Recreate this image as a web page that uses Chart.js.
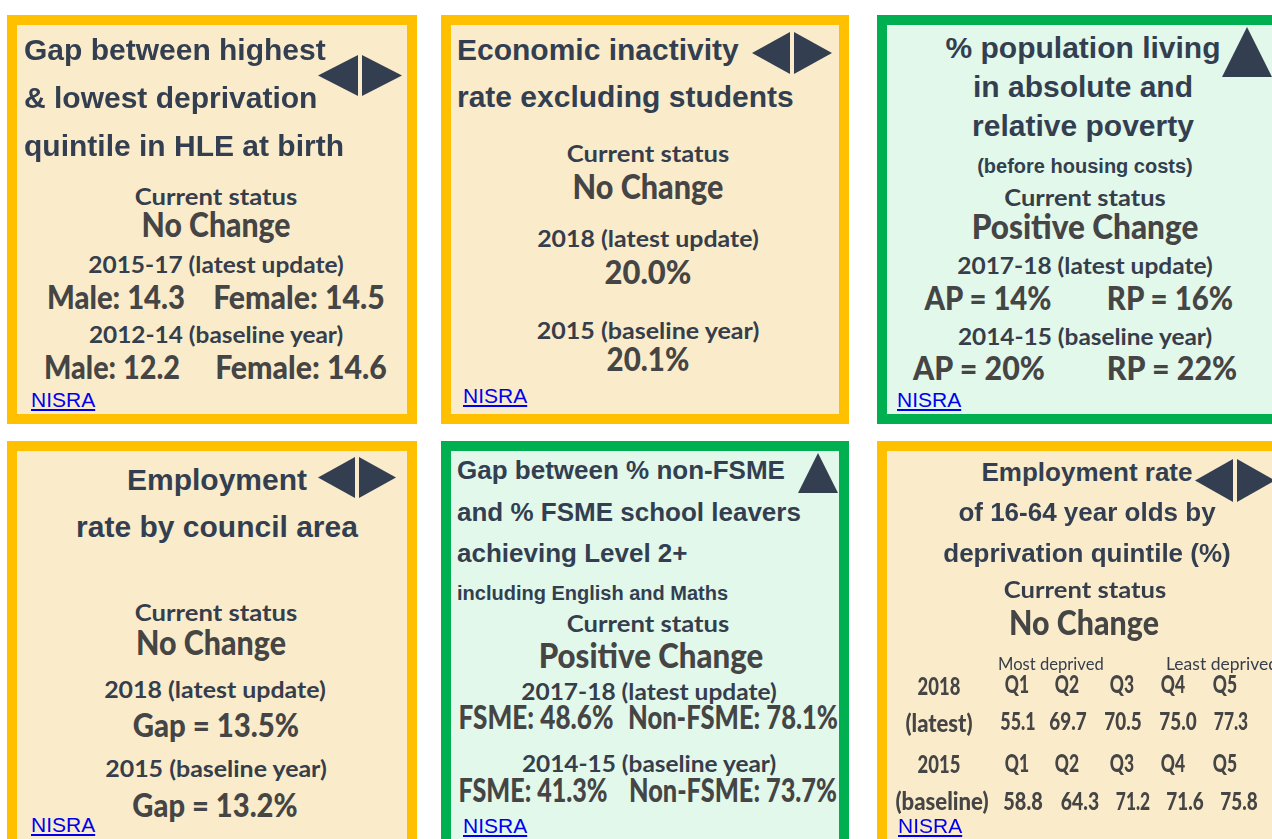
<!DOCTYPE html>
<html>
<head>
<meta charset="utf-8">
<script src="https://cdn.jsdelivr.net/npm/chart.js@4.4.1/dist/chart.umd.min.js"></script>
<style>
  body { margin: 0; background: #fff; }
  #page { position: relative; width: 1272px; height: 839px; overflow: hidden; }
  .card { position: absolute; box-sizing: border-box; border: 10px solid #ffc000; background: #faecca; }
  .card.good { border-color: #00b050; background: #e2f8ea; }
  .t { position: absolute; white-space: nowrap; line-height: 0.9; }
  .arial { font-family: "Liberation Sans", Arial, sans-serif; font-weight: 700; color: #333f50; }
  .fira { font-family: Lato, "Open Sans", sans-serif; font-weight: 700; color: #363d4b; }
  a.src { position: absolute; font-family: "Liberation Sans", Arial, sans-serif; font-size: 21px; line-height: 1; color: #0000ee; }
  canvas.arrow { position: absolute; }
</style>
</head>
<body>
<div id="page"></div>
<script>
// current status of each indicator, in card order
const statuses = ['No Change', 'No Change', 'Positive Change', 'No Change', 'Positive Change', 'No Change'];

// gap in healthy life expectancy (years)
const hleYears = ['2015-17', '2012-14'];
const hleMale = [14.3, 12.2];
const hleFemale = [14.5, 14.6];

// economic inactivity excl. students (%)
const inactivityYears = ['2018', '2015'];
const inactivityRate = [20.0, 20.1];

// absolute / relative poverty (%)
const povertyYears = ['2017-18', '2014-15'];
const povertyAP = [14, 20];
const povertyRP = [16, 22];

// employment rate gap by council area (%)
const employmentYears = ['2018', '2015'];
const employmentGap = [13.5, 13.2];

// school leavers level 2+ (%)
const fsmeYears = ['2017-18', '2014-15'];
const fsmeRate = [48.6, 41.3];
const nonFsmeRate = [78.1, 73.7];

// employment rate 16-64 by deprivation quintile (%)
const quintiles = ['Q1', 'Q2', 'Q3', 'Q4', 'Q5'];
const quintileYears = ['2018', '2015'];
const quintile2018 = [55.1, 69.7, 70.5, 75.0, 77.3];
const quintile2015 = [58.8, 64.3, 71.2, 71.6, 75.8];

const page = document.getElementById('page');
// baseline offset (in em) for line-height 0.9
const K = { arial: 0.7965, fira: 0.837 };
const VAL = '#454545';

function card(x, y, w, h, good) {
  const d = document.createElement('div');
  d.className = 'card' + (good ? ' good' : '');
  Object.assign(d.style, { left: x + 'px', top: y + 'px', width: w + 'px', height: h + 'px' });
  page.appendChild(d);
}

// o.left: left aligned at x, otherwise centred; o.fit: squeeze to this width
function txt(s, x, base, size, o = {}) {
  const f = o.f || 'fira';
  const el = document.createElement('div');
  el.className = 't ' + f;
  el.textContent = s;
  el.style.fontSize = size + 'px';
  el.style.top = (base - K[f] * size) + 'px';
  el.style.left = x + 'px';
  if (o.w) el.style.fontWeight = o.w;
  if (o.c) el.style.color = o.c;
  page.appendChild(el);
  const sx = o.fit ? o.fit / el.offsetWidth : 1;
  if (o.left) {
    el.style.transformOrigin = 'left center';
    el.style.transform = 'scaleX(' + sx + ')';
  } else {
    el.style.transform = 'translateX(-50%) scaleX(' + sx + ')';
  }
  return el;
}

function title(lines, x, bases, size, left) {
  lines.forEach((s, i) => txt(s, x, bases[i], size, { f: 'arial', left: left }));
}

function label(s, x, base, fit) { return txt(s, x, base, 22, { fit: fit }); }
function value(s, x, base, fit, size) { return txt(s, x, base, size || 32, { w: 900, c: VAL, fit: fit }); }

function source(x, base) {
  const a = document.createElement('a');
  a.className = 'src';
  a.href = '#';
  a.textContent = 'NISRA';
  a.style.left = x + 'px';
  a.style.top = (base - 0.8465 * 21) + 'px';
  page.appendChild(a);
}

// draws the status triangles at the points placed by the chart's scales
const trianglePlugin = {
  id: 'triangles',
  afterDatasetsDraw(chart) {
    const g = chart.ctx;
    const area = chart.chartArea;
    const ds = chart.data.datasets[0];
    const h = area.bottom - area.top;
    const up = ds.data.length === 1;
    const tw = up ? area.right - area.left : (area.right - area.left) / 2 - 4;
    g.save();
    g.fillStyle = '#333f50';
    chart.getDatasetMeta(0).data.forEach((pt, i) => {
      const cx = pt.x, cy = pt.y, dir = ds.dirs[i];
      g.beginPath();
      if (dir === 'up') {
        g.moveTo(cx, cy - h / 2); g.lineTo(cx + tw / 2, cy + h / 2); g.lineTo(cx - tw / 2, cy + h / 2);
      } else if (dir === 'left') {
        g.moveTo(cx - tw / 2, cy); g.lineTo(cx + tw / 2, cy - h / 2); g.lineTo(cx + tw / 2, cy + h / 2);
      } else {
        g.moveTo(cx + tw / 2, cy); g.lineTo(cx - tw / 2, cy - h / 2); g.lineTo(cx - tw / 2, cy + h / 2);
      }
      g.closePath();
      g.fill();
    });
    g.restore();
  }
};

function statusChart(status, box) {
  const cv = document.createElement('canvas');
  cv.className = 'arrow';
  cv.width = box.w; cv.height = box.h;
  Object.assign(cv.style, { left: box.x + 'px', top: box.y + 'px', width: box.w + 'px', height: box.h + 'px' });
  page.appendChild(cv);
  const up = status === 'Positive Change';
  new Chart(cv, {
    type: 'scatter',
    data: {
      datasets: [{
        data: up ? [{ x: 0, y: 0 }] : [{ x: -1, y: 0 }, { x: 1, y: 0 }],
        dirs: up ? ['up'] : ['left', 'right'],
        pointRadius: 0
      }]
    },
    options: {
      responsive: false,
      animation: false,
      events: [],
      layout: { padding: 0 },
      plugins: { legend: { display: false }, tooltip: { enabled: false } },
      scales: {
        x: { display: false, min: up ? -1 : -2, max: up ? 1 : 2 },
        y: { display: false, min: -1, max: 1 }
      }
    },
    plugins: [trianglePlugin]
  });
}

// cards
card(7, 15, 410, 409);
card(441, 15, 408, 409);
card(877, 15, 410, 409, true);
card(7, 441, 410, 420);
card(441, 441, 408, 420, true);
card(877, 441, 410, 420);

const arrowBoxes = [
  { x: 316, y: 55, w: 88, h: 41 },
  { x: 750, y: 32, w: 84, h: 42 },
  { x: 1222, y: 27, w: 50, h: 50 },
  { x: 316, y: 457, w: 82, h: 41 },
  { x: 798, y: 453, w: 40, h: 40 },
  { x: 1193, y: 459, w: 84, h: 43 }
];
statuses.forEach((s, i) => statusChart(s, arrowBoxes[i]));

// 1. HLE gap
title(['Gap between highest', '& lowest deprivation', 'quintile in HLE at birth'], 24, [60, 108, 156], 30, true);
label('Current status', 216, 205, 163);
value(statuses[0], 216, 237, 149, 34);
label(hleYears[0] + ' (latest update)', 216, 273, 255);
value('Male: ' + hleMale[0].toFixed(1), 116, 310, 138);
value('Female: ' + hleFemale[0].toFixed(1), 299, 310, 172);
label(hleYears[1] + ' (baseline year)', 216, 343, 254);
value('Male: ' + hleMale[1].toFixed(1), 112, 380, 136);
value('Female: ' + hleFemale[1].toFixed(1), 301, 380, 172);
source(31, 407);

// 2. economic inactivity
title(['Economic inactivity', 'rate excluding students'], 457, [60, 107], 30, true);
label('Current status', 648, 162, 163);
value(statuses[1], 648, 199, 151, 34);
label(inactivityYears[0] + ' (latest update)', 648, 247, 222);
value(inactivityRate[0].toFixed(1) + '%', 648, 285, 87);
label(inactivityYears[1] + ' (baseline year)', 648, 339, 222);
value(inactivityRate[1].toFixed(1) + '%', 648, 372, 83);
source(463, 403);

// 3. poverty
title(['% population living', 'in absolute and', 'relative poverty'], 1083, [58, 97, 136], 30);
txt('(before housing costs)', 1085, 173, 20, { f: 'arial' });
label('Current status', 1085, 206, 162);
value(statuses[2], 1085, 239, 227, 34);
label(povertyYears[0] + ' (latest update)', 1085, 274, 255);
value('AP = ' + povertyAP[0] + '%', 988, 311, 127);
value('RP = ' + povertyRP[0] + '%', 1170, 311, 126);
label(povertyYears[1] + ' (baseline year)', 1085, 345, 254);
value('AP = ' + povertyAP[1] + '%', 979, 381, 132);
value('RP = ' + povertyRP[1] + '%', 1172, 381, 130);
source(897, 407);

// 4. employment by council area
title(['Employment', 'rate by council area'], 217, [490, 537], 30);
label('Current status', 216, 621, 163);
value(statuses[3], 211, 655, 150, 34);
label(employmentYears[0] + ' (latest update)', 215, 698, 222);
value('Gap = ' + employmentGap[0].toFixed(1) + '%', 216, 738, 166);
label(employmentYears[1] + ' (baseline year)', 216, 777, 221);
value('Gap = ' + employmentGap[1].toFixed(1) + '%', 215, 818, 165);
source(31, 832);

// 5. FSME gap
title(['Gap between % non-FSME', 'and % FSME school leavers', 'achieving Level 2+'], 457, [480, 522, 563], 26, true);
txt('including English and Maths', 457, 600, 20, { f: 'arial', left: true });
label('Current status', 648, 632, 163);
value(statuses[4], 651, 668, 225, 34);
label(fsmeYears[0] + ' (latest update)', 649, 700, 255);
value('FSME: ' + fsmeRate[0].toFixed(1) + '%', 536, 730, 155);
value('Non-FSME: ' + nonFsmeRate[0].toFixed(1) + '%', 733, 730, 210);
label(fsmeYears[1] + ' (baseline year)', 649, 772, 254);
value('FSME: ' + fsmeRate[1].toFixed(1) + '%', 533, 803, 149);
value('Non-FSME: ' + nonFsmeRate[1].toFixed(1) + '%', 733, 803, 208);
source(463, 833);

// 6. employment by deprivation quintile
title(['Employment rate', 'of 16-64 year olds by', 'deprivation quintile (%)'], 1087, [482, 522, 563], 26);
label('Current status', 1085, 598, 163);
value(statuses[5], 1084, 635, 150, 34);
txt('Most deprived', 998, 670, 18, { left: true, w: 400, fit: 106 });
txt('Least deprived', 1166, 670, 18, { left: true, w: 400, fit: 112 });
const headX = [1017, 1067, 1122, 1173, 1225];
const row1X = [1018, 1068, 1123, 1178, 1231];
const row2X = [1023, 1080, 1133, 1185, 1239];
const row1W = [35, 37, 37, 37, 34];
const row2W = [39, 38, 34, 37, 37];
value(quintileYears[0], 939, 695, 43, 24);
value('(latest)', 939, 732, 67, 25);
value(quintileYears[1], 939, 773, 43, 24);
value('(baseline)', 942, 810, 93, 25);
quintiles.forEach((q, i) => {
  value(q, headX[i], 693, 24, 24);
  value(q, headX[i], 772, 24, 24);
  value(quintile2018[i].toFixed(1), row1X[i], 730, row1W[i], 25);
  value(quintile2015[i].toFixed(1), row2X[i], 810, row2W[i], 25);
});
source(898, 833);
</script>
</body>
</html>
